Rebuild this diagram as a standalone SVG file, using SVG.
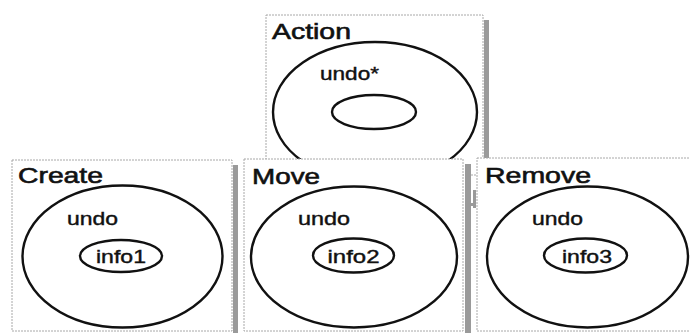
<svg xmlns="http://www.w3.org/2000/svg" width="690" height="333" viewBox="0 0 690 333">
<style>
.box{fill:#fff;stroke:#a8a8a8;stroke-width:1;stroke-dasharray:2 1}
.shadow{fill:#9a9a9a;stroke:none}
.ell{fill:none;stroke:#111;stroke-width:2.4}
.title{font-family:"Liberation Sans",Arial,sans-serif;font-size:22px;fill:#111;stroke:#111;stroke-width:0.6}
.lbl{font-family:"Liberation Sans",Arial,sans-serif;font-size:18px;fill:#111;stroke:#111;stroke-width:0.4}
</style>
<rect width="690" height="333" fill="#fff"/>
<g id="action">
  <rect class="shadow" x="484" y="20" width="5" height="155"/>
  <rect class="box" x="266" y="15" width="217" height="160"/>
  <ellipse class="ell" cx="375" cy="112" rx="102" ry="70"/>
  <ellipse class="ell" cx="374" cy="112" rx="42" ry="17"/>
  <text class="title" x="272" y="39" textLength="79" lengthAdjust="spacingAndGlyphs">Action</text>
  <text class="lbl" x="320" y="80" textLength="59" lengthAdjust="spacingAndGlyphs">undo*</text>
</g>
<g id="connectors">
  <rect class="shadow" x="473" y="190" width="3" height="18"/>
  <rect class="shadow" x="471" y="203" width="4" height="3"/>
</g>
<g id="create">
  <rect class="shadow" x="233" y="165" width="5" height="168"/>
  <rect class="box" x="12" y="160" width="220" height="171"/>
  <ellipse class="ell" cx="122.5" cy="256.5" rx="100" ry="71"/>
  <ellipse class="ell" cx="121" cy="256" rx="41" ry="16"/>
  <text class="title" x="18" y="183" textLength="85" lengthAdjust="spacingAndGlyphs">Create</text>
  <text class="lbl" x="67" y="225" textLength="51" lengthAdjust="spacingAndGlyphs">undo</text>
  <text class="lbl" x="121" y="263" text-anchor="middle" textLength="50" lengthAdjust="spacingAndGlyphs">info1</text>
</g>
<g id="move">
  <rect class="shadow" x="465" y="164" width="6" height="169"/>
  <rect class="box" x="244" y="159" width="219" height="172"/>
  <ellipse class="ell" cx="354" cy="257" rx="103" ry="70.5"/>
  <ellipse class="ell" cx="353.5" cy="255.5" rx="40.5" ry="17"/>
  <text class="title" x="252" y="184" textLength="68" lengthAdjust="spacingAndGlyphs">Move</text>
  <text class="lbl" x="298" y="225" textLength="52" lengthAdjust="spacingAndGlyphs">undo</text>
  <text class="lbl" x="353.5" y="263" text-anchor="middle" textLength="52" lengthAdjust="spacingAndGlyphs">info2</text>
</g>
<g id="remove">
  <rect class="box" x="477" y="158" width="240" height="173"/>
  <ellipse class="ell" cx="587.5" cy="257" rx="100.5" ry="70.5"/>
  <ellipse class="ell" cx="585.5" cy="255.5" rx="41.5" ry="17"/>
  <text class="title" x="485" y="183" textLength="106" lengthAdjust="spacingAndGlyphs">Remove</text>
  <text class="lbl" x="532" y="225" textLength="51" lengthAdjust="spacingAndGlyphs">undo</text>
  <text class="lbl" x="587" y="263" text-anchor="middle" textLength="50" lengthAdjust="spacingAndGlyphs">info3</text>
</g>
</svg>
